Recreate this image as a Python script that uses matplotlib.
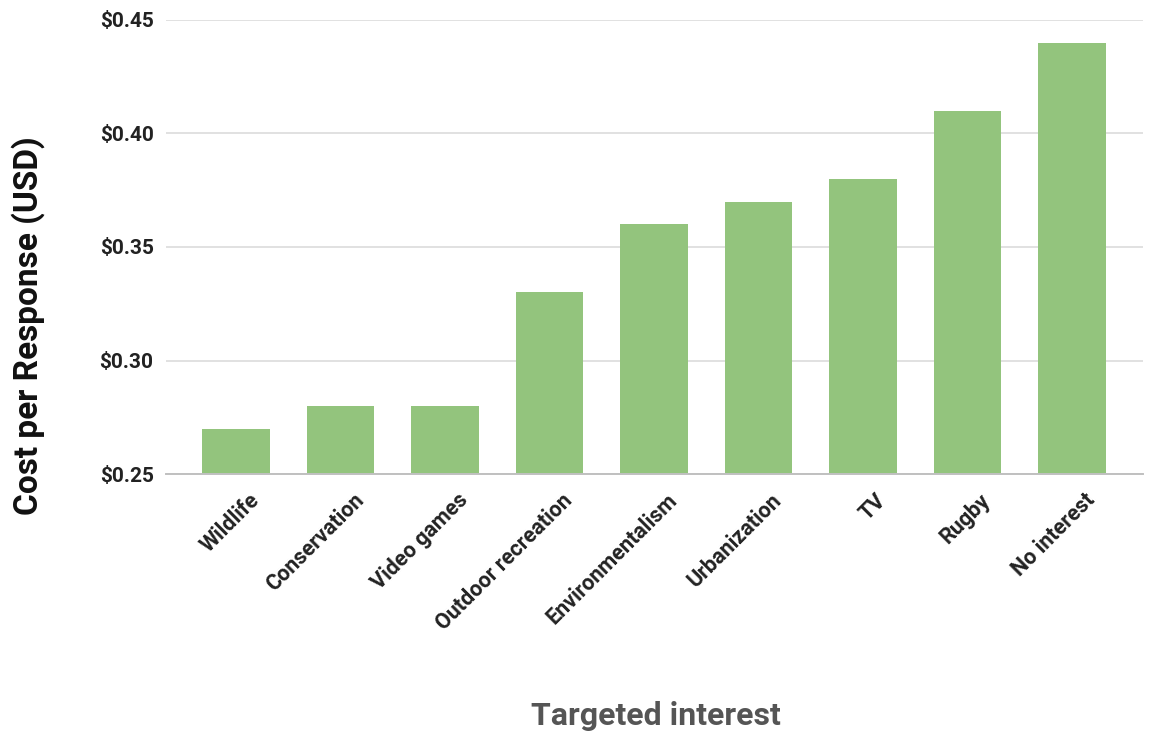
import matplotlib.pyplot as plt
import matplotlib.transforms as mtransforms
from matplotlib.ticker import FuncFormatter

interests = ["Wildlife", "Conservation", "Video games", "Outdoor recreation",
             "Environmentalism", "Urbanization", "TV", "Rugby", "No interest"]
cost = [0.27, 0.28, 0.28, 0.33, 0.36, 0.37, 0.38, 0.41, 0.44]
y_ticks = [0.25, 0.30, 0.35, 0.40, 0.45]

plt.rcParams["font.family"] = ["Roboto", "DejaVu Sans"]

fig = plt.figure(figsize=(11.49, 7.34), dpi=100)
ax = fig.add_axes([0.1445, 0.3542, 0.8503, 0.6186])

x = range(len(interests))
ax.bar(x, [c - y_ticks[0] for c in cost], bottom=y_ticks[0], width=0.65,
       color="#93c47d", zorder=3)

ax.set_xlim(-0.67, 8.68)
ax.set_ylim(y_ticks[0], y_ticks[-1])
ax.set_yticks(y_ticks)
ax.yaxis.set_major_formatter(FuncFormatter(lambda v, p: f"${v:.2f}"))
ax.grid(axis="y", color="#dcdcdc", linewidth=1.2, zorder=0)
for s in ["top", "right", "left"]:
    ax.spines[s].set_visible(False)
ax.spines["bottom"].set_color("#c0c0c0")
ax.spines["bottom"].set_linewidth(1.4)
ax.spines["bottom"].set_zorder(4)
ax.tick_params(axis="both", length=0, labelsize=15, colors="#222222")
ax.tick_params(axis="y", pad=9)
ax.tick_params(axis="x", pad=11, labelsize=15.5)
ax.set_xticks(list(x))
ax.set_xticklabels(interests, rotation=45, ha="right", va="top",
                   rotation_mode="anchor", fontweight="bold")
for lbl in ax.get_yticklabels():
    lbl.set_fontweight("bold")
# nudge the slanted category names a little to the right of each bar centre
shift = mtransforms.ScaledTranslation(12 / 100, 0, fig.dpi_scale_trans)
for lbl in ax.get_xticklabels():
    lbl.set_transform(lbl.get_transform() + shift)

fig.text(0.024, 0.557, "Cost per Response (USD)", fontsize=24,
         fontweight="bold", color="#111111", rotation=90,
         ha="center", va="center")
fig.text(0.571, 0.0245, "Targeted interest", fontsize=23, fontweight="bold",
         color="#555555", ha="center", va="center")

fig.savefig("out.png", dpi=100)
